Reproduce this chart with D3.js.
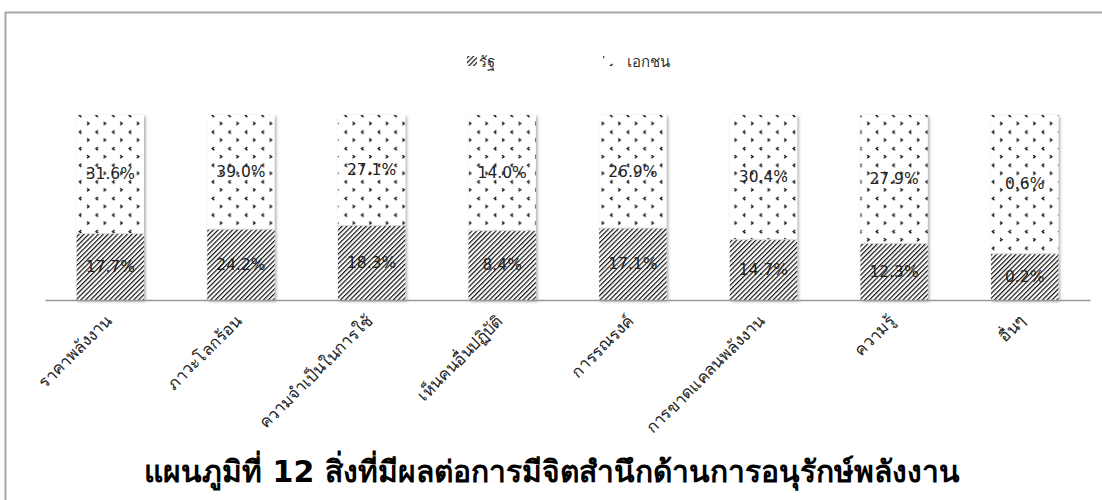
<!DOCTYPE html>
<html>
<head>
<meta charset="utf-8">
<script src="https://cdnjs.cloudflare.com/ajax/libs/d3/7.8.5/d3.min.js"></script>
<style>
  body { margin: 0; background: #fff; }
  text { font-family: Tahoma, "DejaVu Sans", "Noto Sans", sans-serif; }
</style>
</head>
<body>
<div id="svg_container"></div>
<script>
/* -----------------------
data
------------------------- */
var categories = ["ราคาพลังงาน", "ภาวะโลกร้อน", "ความจำเป็นในการใช้", "เห็นคนอื่นปฏิบัติ",
                  "การรณรงค์", "การขาดแคลนพลังงาน", "ความรู้", "อื่นๆ"];
var seriesNames = ["รัฐ", "เอกชน"];
var stateValues = [17.7, 24.2, 18.3, 8.4, 17.1, 14.7, 12.3, 0.2];
var privateValues = [31.6, 39.0, 27.1, 14.0, 26.9, 30.4, 27.9, 0.6];
var chartTitle = "แผนภูมิที่ 12 สิ่งที่มีผลต่อการมีจิตสำนึกด้านการอนุรักษ์พลังงาน";

/* -----------------------
main variables
------------------------- */
var width = 1102, height = 500;
var plotLeft = 45, plotRight = 1090, plotTop = 115, plotBottom = 300;

var svg = d3.select("#svg_container")
    .append("svg")
    .attr("width", width)
    .attr("height", height);

var defs = svg.append("defs");

// wide upward diagonal hatch
var hs = 3.4;
var hatch = defs.append("pattern")
    .attr("id", "hatch")
    .attr("patternUnits", "userSpaceOnUse")
    .attr("width", hs).attr("height", hs)
    .attr("patternTransform", "rotate(45)");
hatch.append("rect").attr("width", hs).attr("height", hs).attr("fill", "#fff");
hatch.append("line")
    .attr("x1", 0.6).attr("y1", 0).attr("x2", 0.6).attr("y2", hs)
    .attr("stroke", "#111").attr("stroke-width", 1.2);

// small chevron dots
var dots = defs.append("pattern")
    .attr("id", "dots")
    .attr("patternUnits", "userSpaceOnUse")
    .attr("width", 16.6).attr("height", 16.6)
    .attr("x", 1).attr("y", 112);
dots.append("rect").attr("width", 16.6).attr("height", 16.6).attr("fill", "#fff");
dots.append("path").attr("d", "M14,2 L12,3.5 L14,5").attr("stroke", "#000").attr("stroke-width", 1.3).attr("fill", "none");
dots.append("path").attr("d", "M3,10 L5,11.5 L3,13").attr("stroke", "#000").attr("stroke-width", 1.3).attr("fill", "none");

var shadow = defs.append("filter").attr("id", "shadow")
    .attr("x", "-10%").attr("y", "-10%").attr("width", "130%").attr("height", "130%");
shadow.append("feDropShadow")
    .attr("dx", 1.5).attr("dy", 1.5).attr("stdDeviation", 1.5)
    .attr("flood-color", "#000").attr("flood-opacity", 0.35);

var fills = ["url(#hatch)", "url(#dots)"];

/* -----------------------
frame
------------------------- */
svg.append("path")
    .attr("d", "M5.5,500 L5.5,12.5 L1102,12.5")
    .attr("fill", "none")
    .attr("stroke", "#a6a6a6")
    .attr("stroke-width", 2);

/* -----------------------
scales + stack
------------------------- */
var rows = categories.map(function(c, i) {
    return { cat: c, s0: stateValues[i], s1: privateValues[i] };
});

var stack = d3.stack()
    .keys(["s0", "s1"])
    .offset(d3.stackOffsetExpand);
var layers = stack(rows);

var x = d3.scaleBand()
    .domain(categories)
    .range([plotLeft, plotRight])
    .paddingInner(0.485)
    .paddingOuter(0.2425);

var y = d3.scaleLinear()
    .domain([0, 1])
    .range([plotBottom, plotTop]);

/* -----------------------
bars
------------------------- */
var barG = svg.append("g").attr("filter", "url(#shadow)");
layers.forEach(function(layer, li) {
    barG.selectAll(".bar" + li)
        .data(layer)
        .enter().append("rect")
        .attr("x", function(d) { return x(d.data.cat); })
        .attr("y", function(d) { return y(d[1]); })
        .attr("width", x.bandwidth())
        .attr("height", function(d) { return y(d[0]) - y(d[1]); })
        .attr("fill", fills[li]);
});

// separator between segments
svg.selectAll(".sep")
    .data(layers[0])
    .enter().append("line")
    .attr("x1", function(d) { return x(d.data.cat); })
    .attr("x2", function(d) { return x(d.data.cat) + x.bandwidth(); })
    .attr("y1", function(d) { return y(d[1]); })
    .attr("y2", function(d) { return y(d[1]); })
    .attr("stroke", "#ddd").attr("stroke-width", 1);

// data labels
layers.forEach(function(layer, li) {
    svg.selectAll(".lab" + li)
        .data(layer)
        .enter().append("text")
        .attr("x", function(d) { return x(d.data.cat) + x.bandwidth() / 2; })
        .attr("y", function(d) { return (y(d[0]) + y(d[1])) / 2 + 5; })
        .attr("text-anchor", "middle")
        .attr("font-size", "15.5px")
        .attr("fill", "#222")
        .text(function(d, i) {
            var v = li === 0 ? stateValues[i] : privateValues[i];
            return v.toFixed(1) + "%";
        });
});

/* -----------------------
axis
------------------------- */
var xAxis = svg.append("g")
    .attr("class", "axis axis-x")
    .attr("transform", "translate(0," + plotBottom + ")")
    .call(d3.axisBottom(x).tickSize(0).tickPadding(0).tickSizeOuter(0));

xAxis.select(".domain").attr("stroke", "#999").attr("stroke-width", 1.5);
xAxis.selectAll(".tick text")
    .attr("font-size", "16.5px")
    .attr("fill", "#222")
    .attr("text-anchor", "end")
    .attr("dy", 0)
    .attr("transform", "translate(2,22) rotate(-45)");

/* -----------------------
legend
------------------------- */
var legendX = [467, 603];
var legend = svg.append("g");
seriesNames.forEach(function(name, i) {
    legend.append("rect")
        .attr("x", legendX[i]).attr("y", 56)
        .attr("width", 10).attr("height", 10)
        .attr("fill", fills[i]);
    legend.append("text")
        .attr("x", legendX[i] + (i === 0 ? 12 : 24))
        .attr("y", 67)
        .attr("font-size", "15px")
        .attr("fill", "#333")
        .text(name);
});

/* -----------------------
title
------------------------- */
svg.append("text")
    .attr("x", 552)
    .attr("y", 482)
    .attr("text-anchor", "middle")
    .attr("font-size", "30px")
    .attr("font-weight", "bold")
    .attr("fill", "#000")
    .text(chartTitle);
</script>
</body>
</html>
